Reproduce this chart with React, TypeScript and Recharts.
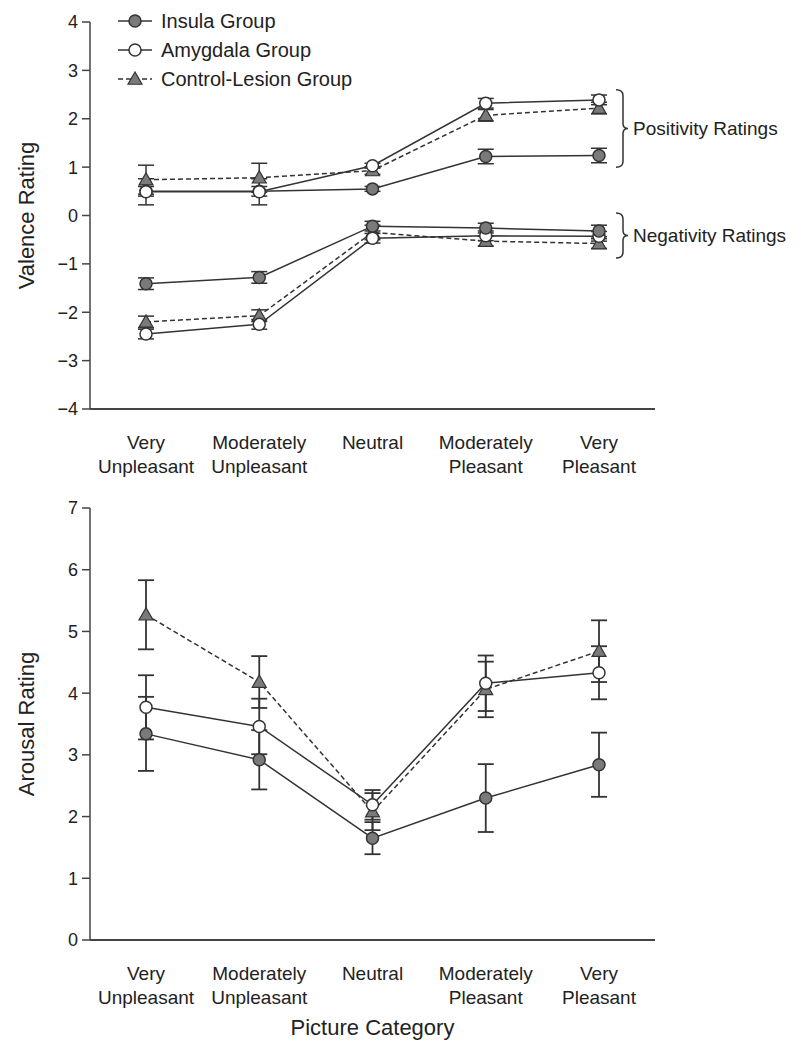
import React from 'react';
import { LineChart, Line, XAxis, YAxis, ErrorBar, ReferenceArea } from 'recharts';

const categories = ['Very|Unpleasant', 'Moderately|Unpleasant', 'Neutral', 'Moderately|Pleasant', 'Very|Pleasant'];
const groupNames = ['Insula Group', 'Amygdala Group', 'Control-Lesion Group'];

// Valence – positivity ratings
const insulaPos = [0.5, 0.5, 0.55, 1.22, 1.24];
const insulaPosErr = [0.1, 0.1, 0.05, 0.15, 0.15];
const amygPos = [0.49, 0.49, 1.03, 2.32, 2.39];
const amygPosErr = [0.27, 0.27, 0.05, 0.1, 0.1];
const ctrlPos = [0.74, 0.78, 0.93, 2.07, 2.22];
const ctrlPosErr = [0.3, 0.3, 0.08, 0.12, 0.12];

// Valence – negativity ratings
const insulaNeg = [-1.41, -1.28, -0.22, -0.26, -0.32];
const insulaNegErr = [0.12, 0.12, 0.1, 0.1, 0.12];
const amygNeg = [-2.45, -2.25, -0.47, -0.42, -0.43];
const amygNegErr = [0.1, 0.1, 0.1, 0.1, 0.1];
const ctrlNeg = [-2.2, -2.07, -0.35, -0.53, -0.58];
const ctrlNegErr = [0.12, 0.12, 0.15, 0.1, 0.1];

// Arousal
const insulaAr = [3.34, 2.92, 1.65, 2.3, 2.84];
const insulaArErr = [0.6, 0.48, 0.26, 0.55, 0.52];
const amygAr = [3.77, 3.46, 2.19, 4.16, 4.33];
const amygArErr = [0.52, 0.45, 0.24, 0.45, 0.43];
const ctrlAr = [5.27, 4.18, 2.08, 4.06, 4.68];
const ctrlArErr = [0.56, 0.42, 0.3, 0.45, 0.5];

const valenceTicks = [-4, -3, -2, -1, 0, 1, 2, 3, 4];
const arousalTicks = [0, 1, 2, 3, 4, 5, 6, 7];

const FONT = '"Liberation Sans", Arial, Helvetica, sans-serif';
const INK = '#333';
const GRAY = '#7a7a7a';

const valenceData = categories.map((c, i) => ({
  cat: c,
  insulaPos: insulaPos[i], insulaPosErr: insulaPosErr[i],
  amygPos: amygPos[i], amygPosErr: amygPosErr[i],
  ctrlPos: ctrlPos[i], ctrlPosErr: ctrlPosErr[i],
  insulaNeg: insulaNeg[i], insulaNegErr: insulaNegErr[i],
  amygNeg: amygNeg[i], amygNegErr: amygNegErr[i],
  ctrlNeg: ctrlNeg[i], ctrlNegErr: ctrlNegErr[i],
}));

const arousalData = categories.map((c, i) => ({
  cat: c,
  insula: insulaAr[i], insulaErr: insulaArErr[i],
  amyg: amygAr[i], amygErr: amygArErr[i],
  ctrl: ctrlAr[i], ctrlErr: ctrlArErr[i],
}));

const CircleDot = (fill: string) => (props: any) => {
  const { cx, cy } = props;
  if (cx == null || cy == null) return <g />;
  return <circle cx={cx} cy={cy} r={6} fill={fill} stroke={INK} strokeWidth={1.5} />;
};

const TriDot = (props: any) => {
  const { cx, cy } = props;
  if (cx == null || cy == null) return <g />;
  const s = 7;
  return (
    <polygon
      points={`${cx},${cy - s} ${cx - s},${cy + s * 0.75} ${cx + s},${cy + s * 0.75}`}
      fill={GRAY}
      stroke={INK}
      strokeWidth={1.2}
    />
  );
};

const CatTick = (props: any) => {
  const { x, y, payload } = props;
  const lines = String(payload.value).split('|');
  return (
    <text x={x} y={y + 33} textAnchor="middle" dominantBaseline="central" fontSize={19} fill="#222" fontFamily={FONT}>
      {lines.map((l, i) => (
        <tspan key={i} x={x} dy={i === 0 ? 0 : 24}>
          {l}
        </tspan>
      ))}
    </text>
  );
};

const fmtNum = (v: number) => (v < 0 ? '\u2212' + Math.abs(v) : String(v));

const YLabel = (text: string) => (props: any) => {
  const vb = props.viewBox || {};
  const cx = 26;
  const cy = vb.y + vb.height / 2;
  return (
    <text
      x={cx}
      y={cy}
      transform={`rotate(-90 ${cx} ${cy})`}
      textAnchor="middle"
      dominantBaseline="central"
      fontSize={22}
      fill="#222"
      fontFamily={FONT}
    >
      {text}
    </text>
  );
};

const XLabel = (text: string) => (props: any) => {
  const vb = props.viewBox || {};
  return (
    <text
      x={vb.x + vb.width / 2}
      y={vb.y + 87}
      textAnchor="middle"
      dominantBaseline="central"
      fontSize={22}
      fill="#222"
      fontFamily={FONT}
    >
      {text}
    </text>
  );
};

const Brace = (label: string) => (props: any) => {
  const { x, y, height } = props;
  if (x == null || y == null) return <g />;
  const x0 = x + 17;
  const top = y;
  const bot = y + height;
  const mid = (top + bot) / 2;
  const xm = x0 + 7;
  const d = `M ${x0} ${top} Q ${xm} ${top} ${xm} ${top + 6} L ${xm} ${mid - 5} Q ${xm} ${mid} ${xm + 5} ${mid} Q ${xm} ${mid} ${xm} ${mid + 5} L ${xm} ${bot - 6} Q ${xm} ${bot} ${x0} ${bot}`;
  return (
    <g>
      <path d={d} fill="none" stroke={INK} strokeWidth={1.5} />
      <text x={xm + 10} y={mid} dominantBaseline="central" fontSize={19} fill="#222" fontFamily={FONT}>
        {label}
      </text>
    </g>
  );
};

const LegendBox = () => {
  const rowH = 29;
  return (
    <svg width={280} height={100} style={{ position: 'absolute', left: 118, top: 8, overflow: 'visible' }}>
      {groupNames.map((name, i) => {
        const y = 13 + i * rowH;
        const dashed = i === 2;
        return (
          <g key={name}>
            <line x1={0} x2={34} y1={y} y2={y} stroke={INK} strokeWidth={1.5} strokeDasharray={dashed ? '5 3' : undefined} />
            {i === 0 && <circle cx={17} cy={y} r={6} fill={GRAY} stroke={INK} strokeWidth={1.5} />}
            {i === 1 && <circle cx={17} cy={y} r={6} fill="#fff" stroke={INK} strokeWidth={1.5} />}
            {i === 2 && <TriDot cx={17} cy={y} />}
            <text x={43} y={y} dominantBaseline="central" fontSize={20} fill="#222" fontFamily={FONT}>
              {name}
            </text>
          </g>
        );
      })}
    </svg>
  );
};

const axisStroke = '#444';

export default function App() {
  return (
    <div style={{ position: 'absolute', left: 0, top: 0, width: 811, height: 1050, background: '#fff' }}>
      <div style={{ position: 'absolute', left: 0, top: 0 }}>
        <LineChart width={811} height={480} data={valenceData} margin={{ top: 22, right: 156, bottom: 11, left: 0 }}>
          <XAxis
            dataKey="cat"
            type="category"
            padding={{ left: 56, right: 56 }}
            tick={<CatTick />}
            tickLine={false}
            tickSize={0}
            tickMargin={0}
            height={60}
            interval={0}
            stroke={axisStroke}
            strokeWidth={2}
          />
          <YAxis
            type="number"
            domain={[-4, 4]}
            ticks={valenceTicks}
            width={90}
            tickSize={8}
            tickMargin={4}
            tickFormatter={fmtNum}
            tick={{ fontSize: 18, fill: '#222', fontFamily: FONT }}
            stroke={axisStroke}
            strokeWidth={1.5}
            label={{ content: YLabel('Valence Rating') } as any}
          />
          <ReferenceArea x1={categories[4]} x2={categories[4]} y1={1.0} y2={2.6} ifOverflow="visible" shape={Brace('Positivity Ratings')} />
          <ReferenceArea x1={categories[4]} x2={categories[4]} y1={-0.88} y2={0.05} ifOverflow="visible" shape={Brace('Negativity Ratings')} />

          <Line dataKey="ctrlPos" stroke={INK} strokeWidth={1.5} strokeDasharray="5 3" dot={TriDot} isAnimationActive={false}>
            <ErrorBar dataKey="ctrlPosErr" width={8} stroke={INK} strokeWidth={1.5} direction="y" />
          </Line>
          <Line dataKey="insulaPos" stroke={INK} strokeWidth={1.5} dot={CircleDot(GRAY)} isAnimationActive={false}>
            <ErrorBar dataKey="insulaPosErr" width={8} stroke={INK} strokeWidth={1.5} direction="y" />
          </Line>
          <Line dataKey="amygPos" stroke={INK} strokeWidth={1.5} dot={CircleDot('#fff')} isAnimationActive={false}>
            <ErrorBar dataKey="amygPosErr" width={8} stroke={INK} strokeWidth={1.5} direction="y" />
          </Line>
          <Line dataKey="ctrlNeg" stroke={INK} strokeWidth={1.5} strokeDasharray="5 3" dot={TriDot} isAnimationActive={false}>
            <ErrorBar dataKey="ctrlNegErr" width={8} stroke={INK} strokeWidth={1.5} direction="y" />
          </Line>
          <Line dataKey="amygNeg" stroke={INK} strokeWidth={1.5} dot={CircleDot('#fff')} isAnimationActive={false}>
            <ErrorBar dataKey="amygNegErr" width={8} stroke={INK} strokeWidth={1.5} direction="y" />
          </Line>
          <Line dataKey="insulaNeg" stroke={INK} strokeWidth={1.5} dot={CircleDot(GRAY)} isAnimationActive={false}>
            <ErrorBar dataKey="insulaNegErr" width={8} stroke={INK} strokeWidth={1.5} direction="y" />
          </Line>
        </LineChart>
        <LegendBox />
      </div>
      <div style={{ position: 'absolute', left: 0, top: 480 }}>
        <LineChart width={811} height={570} data={arousalData} margin={{ top: 28, right: 156, bottom: 20, left: 0 }}>
          <XAxis
            dataKey="cat"
            type="category"
            padding={{ left: 56, right: 56 }}
            tick={<CatTick />}
            tickLine={false}
            tickSize={0}
            tickMargin={0}
            height={90}
            interval={0}
            stroke={axisStroke}
            strokeWidth={2}
            label={{ content: XLabel('Picture Category') } as any}
          />
          <YAxis
            type="number"
            domain={[0, 7]}
            ticks={arousalTicks}
            width={90}
            tickSize={8}
            tickMargin={4}
            tickFormatter={fmtNum}
            tick={{ fontSize: 18, fill: '#222', fontFamily: FONT }}
            stroke={axisStroke}
            strokeWidth={1.5}
            label={{ content: YLabel('Arousal Rating') } as any}
          />
          <Line dataKey="ctrl" stroke={INK} strokeWidth={1.5} strokeDasharray="5 3" dot={TriDot} isAnimationActive={false}>
            <ErrorBar dataKey="ctrlErr" width={8} stroke={INK} strokeWidth={1.8} direction="y" />
          </Line>
          <Line dataKey="amyg" stroke={INK} strokeWidth={1.5} dot={CircleDot('#fff')} isAnimationActive={false}>
            <ErrorBar dataKey="amygErr" width={8} stroke={INK} strokeWidth={1.8} direction="y" />
          </Line>
          <Line dataKey="insula" stroke={INK} strokeWidth={1.5} dot={CircleDot(GRAY)} isAnimationActive={false}>
            <ErrorBar dataKey="insulaErr" width={8} stroke={INK} strokeWidth={1.8} direction="y" />
          </Line>
        </LineChart>
      </div>
    </div>
  );
}
